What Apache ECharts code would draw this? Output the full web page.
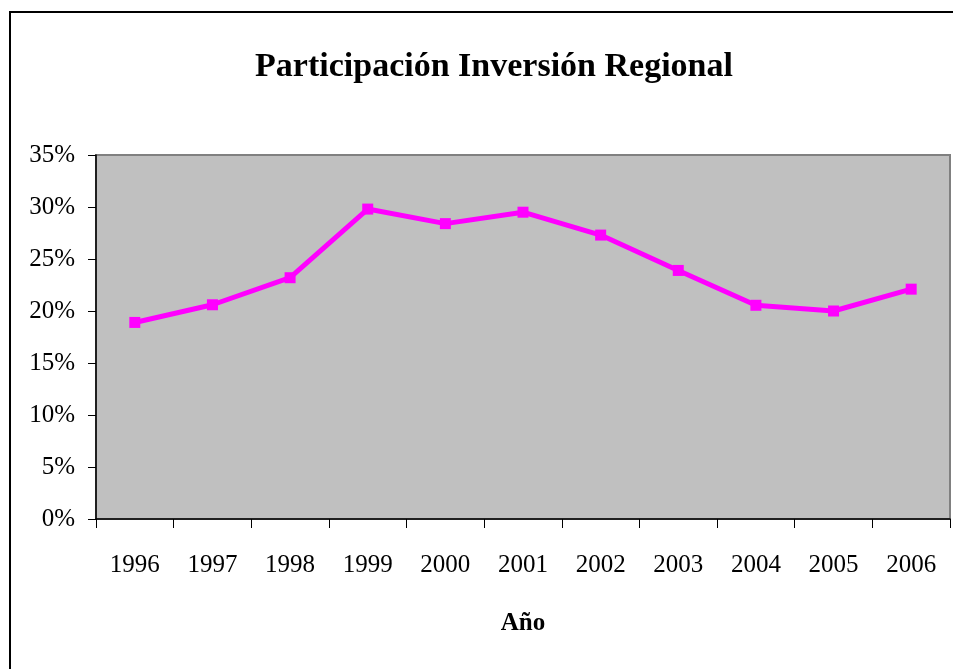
<!DOCTYPE html>
<html>
<head>
<meta charset="utf-8">
<script src="https://cdn.jsdelivr.net/npm/echarts@6/dist/echarts.min.js"></script>
<style>html,body{margin:0;padding:0;background:#fff;}#c{width:953px;height:669px;}</style>
</head>
<body>
<div id="c"></div>
<script>
const years = ['1996','1997','1998','1999','2000','2001','2002','2003','2004','2005','2006'];
const shares = [18.9, 20.6, 23.2, 29.8, 28.4, 29.5, 27.3, 23.9, 20.55, 20.0, 22.1];
const yTicks = {min: 0, max: 35, interval: 5};

const chart = echarts.init(document.getElementById('c'));
chart.setOption({
  animation: false,
  backgroundColor: '#ffffff',
  title: {
    text: 'Participación Inversión Regional',
    left: 489, top: 45, textAlign: 'center',
    textStyle: {fontFamily: 'Liberation Serif', fontWeight: 'bold', fontSize: 34, color: '#000'}
  },
  graphic: [{
    type: 'rect', shape: {x: 10, y: 12, width: 1000, height: 700},
    style: {fill: 'none', stroke: '#000', lineWidth: 2}, z: -1, silent: true
  }],
  grid: {left: 96, top: 155, right: 3, bottom: 150, show: true, backgroundColor: '#c0c0c0', borderColor: '#808080', borderWidth: 2},
  xAxis: {
    type: 'category', data: years, boundaryGap: true,
    name: 'Año', nameLocation: 'middle', nameGap: 92,
    nameTextStyle: {fontFamily: 'Liberation Serif', fontWeight: 'bold', fontSize: 25, color: '#000'},
    axisLine: {lineStyle: {color: '#000', width: 1.5}},
    axisTick: {show: true, length: 9, alignWithLabel: false, lineStyle: {color: '#000'}},
    axisLabel: {margin: 34, fontFamily: 'Liberation Serif', fontSize: 25, color: '#000'},
    splitLine: {show: false}
  },
  yAxis: {
    type: 'value', min: yTicks.min, max: yTicks.max, interval: yTicks.interval,
    axisLine: {show: true, lineStyle: {color: '#000', width: 1.5}},
    axisTick: {show: true, length: 8, lineStyle: {color: '#000'}},
    axisLabel: {margin: 21, fontFamily: 'Liberation Serif', fontSize: 25, color: '#000', formatter: '{value}%'},
    splitLine: {show: false}
  },
  series: [{
    type: 'line', data: shares,
    symbol: 'rect', symbolSize: 11,
    lineStyle: {color: '#ff00ff', width: 5},
    itemStyle: {color: '#ff00ff'}
  }]
});
</script>
</body>
</html>
